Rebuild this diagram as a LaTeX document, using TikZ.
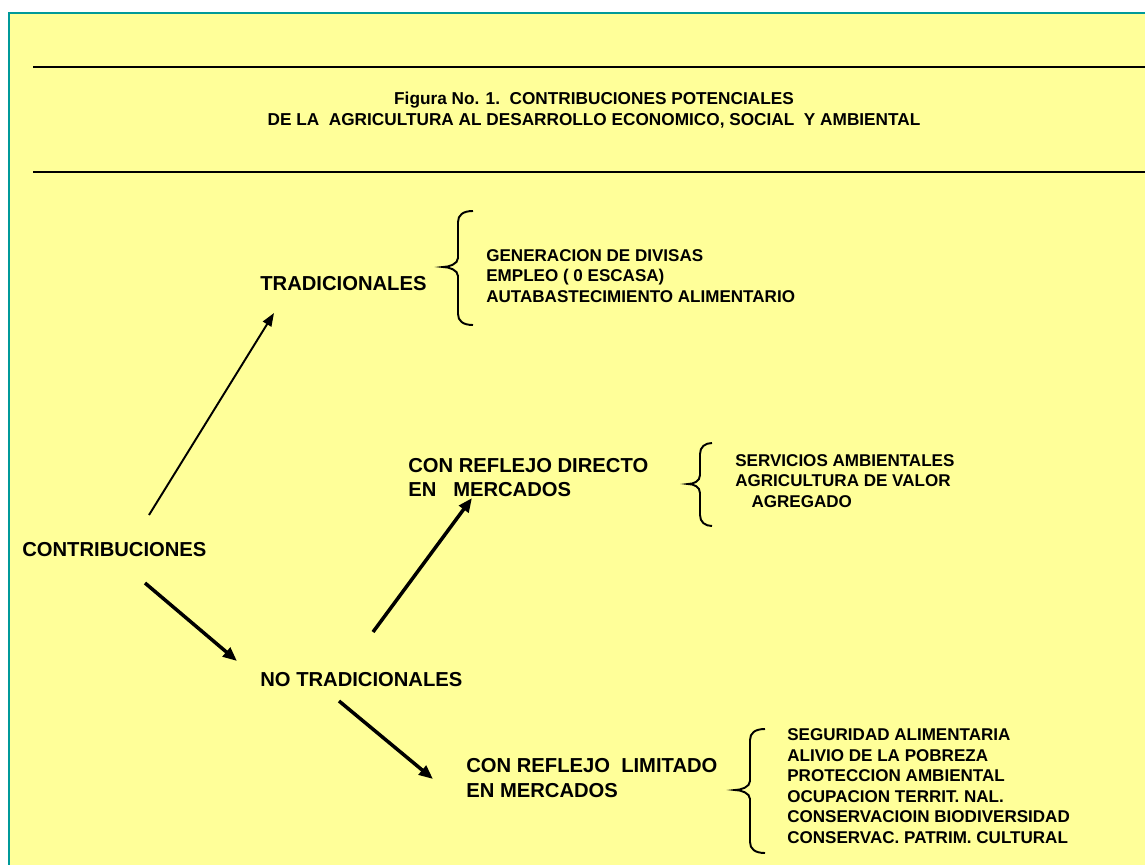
\documentclass[tikz,border=0pt]{standalone}
\usepackage{fontspec}
\setmainfont{Liberation Sans}
\usetikzlibrary{arrows.meta}

\definecolor{fondo}{HTML}{FFFF99}
\definecolor{borde}{HTML}{009999}

% llave: x extremos, x punta, y arriba, y punta, y abajo
\newcommand{\llave}[5]{%
  \pgfmathsetmacro{\lx}{(#1+#2)/2}
  \draw[llavelinea] (#1,#3) .. controls (\lx+5,#3) and (\lx,#3+4) .. (\lx,#3+11)
    -- (\lx,#4-9) .. controls (\lx,#4-3) and (#2+6,#4) .. (#2,#4)
    .. controls (#2+6,#4) and (\lx,#4+3) .. (\lx,#4+9)
    -- (\lx,#5-11) .. controls (\lx,#5-4) and (\lx+5,#5) .. (#1,#5);}

\begin{document}
\begin{tikzpicture}[x=0.02cm, y=-0.02cm,
  etiqueta/.style={font=\bfseries\fontsize{11.5}{13.7}\selectfont, anchor=west, align=left, inner sep=0pt},
  lista/.style={font=\bfseries\fontsize{9.7}{11.7}\selectfont, anchor=west, align=left, inner sep=0pt},
  flecha/.style={-{Triangle[length=8pt, width=6.5pt]}, line width=2pt},
  flechafina/.style={-{Triangle[length=7.5pt, width=5.5pt]}, line width=1.1pt},
  llavelinea/.style={line width=1.1pt}]

    \useasboundingbox (0,0) rectangle (1145,865);
    \fill[fondo] (9,13) rectangle (1145,865);
    \draw[borde, line width=1.2pt] (1145,13) -- (9,13) -- (9,865);
    \draw[line width=1.3pt] (33,67) -- (1145,67);
    \draw[line width=1.3pt] (33,172) -- (1145,172);

    \node[font=\bfseries\fontsize{9.8}{12}\selectfont, align=center, inner sep=0pt] (titulo) at (594,110)
        {Figura No. 1.\ \ CONTRIBUCIONES POTENCIALES\\DE LA\ \ AGRICULTURA AL DESARROLLO ECONOMICO, SOCIAL\ \ Y AMBIENTAL};

    \node[etiqueta] (contrib) at (22,550) {CONTRIBUCIONES};
    \node[etiqueta] (trad) at (260,284) {TRADICIONALES};
    \node[etiqueta] (notrad) at (260,680) {NO TRADICIONALES};
    \node[etiqueta] (directo) at (408,478) {CON REFLEJO DIRECTO\\EN\ \ \ MERCADOS};
    \node[etiqueta] (limitado) at (466,778) {CON REFLEJO\ \ LIMITADO\\EN MERCADOS};

    \node[lista] (ltrad) at (486,276) {GENERACION DE DIVISAS\\EMPLEO ( 0 ESCASA)\\AUTABASTECIMIENTO ALIMENTARIO};
    \node[lista] (ldirecto) at (735,481) {SERVICIOS AMBIENTALES\\AGRICULTURA DE VALOR\\\hspace*{23\pgflinewidth}AGREGADO};
    \node[lista] (llimitado) at (787,786) {SEGURIDAD ALIMENTARIA\\ALIVIO DE LA POBREZA\\PROTECCION AMBIENTAL\\OCUPACION TERRIT. NAL.\\CONSERVACIOIN BIODIVERSIDAD\\CONSERVAC. PATRIM. CULTURAL};

    \llave{473}{443}{211}{267}{325}
    \llave{712}{688}{443}{484}{526}
    \llave{765}{735}{729}{790}{853}

    \coordinate (s1) at (149,515);
    \coordinate (t1) at (274,313);
    \coordinate (s2) at (145,583);
    \coordinate (t2) at (237,661);
    \coordinate (s3) at (373,632);
    \coordinate (t3) at (472,498);
    \coordinate (s4) at (339,701);
    \coordinate (t4) at (433,779);

    \draw[flechafina] (s1) -- (t1);
    \draw[flecha] (s2) -- (t2);
    \draw[flecha] (s3) -- (t3);
    \draw[flecha] (s4) -- (t4);

\end{tikzpicture}
\end{document}
